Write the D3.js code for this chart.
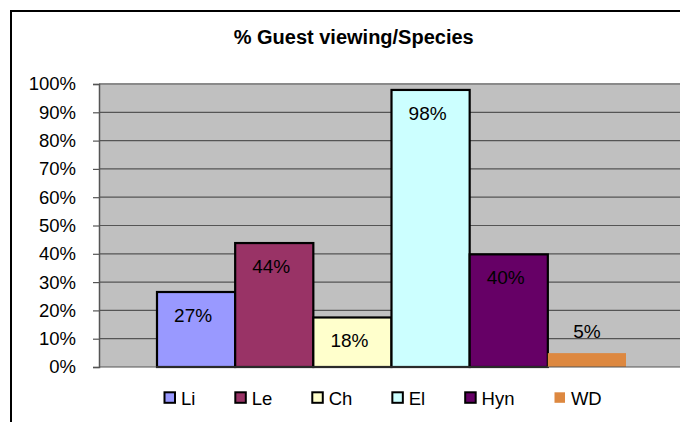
<!DOCTYPE html>
<html>
<head>
<meta charset="utf-8">
<script src="https://cdn.jsdelivr.net/npm/d3@7"></script>
<style>
  html, body { margin: 0; padding: 0; background: #fff; }
  svg { display: block; }
  text { font-family: "Liberation Sans", Arial, sans-serif; fill: #000; }
</style>
</head>
<body>
<svg id="chart" width="680" height="422"></svg>
<script>
// ---- data ----
const title = "% Guest viewing/Species";
const categories = ["Li", "Le", "Ch", "El", "Hyn", "WD"];
const values = [0.265, 0.438, 0.175, 0.979, 0.398, 0.049];
const valueLabels = ["27%", "44%", "18%", "98%", "40%", "5%"];
const colors = ["#9999FF", "#993366", "#FFFFCC", "#CCFFFF", "#660066", "#DD8840"];
const bordered = [true, true, true, true, true, false];
const yTicks = [0, 0.1, 0.2, 0.3, 0.4, 0.5, 0.6, 0.7, 0.8, 0.9, 1.0];

// ---- layout ----
const svg = d3.select("#chart");
const plot = { left: 99, right: 684, top: 84, bottom: 367 };
const groupWidth = 469;
const groupCenter = (plot.left + plot.right) / 2;

// outer chart border (extends past the window on right/bottom)
svg.append("rect")
  .attr("x", 11).attr("y", 11).attr("width", 740).attr("height", 460)
  .attr("fill", "#fff").attr("stroke", "#000").attr("stroke-width", 2);

// title
svg.append("text")
  .attr("x", 353.7).attr("y", 43.5)
  .attr("text-anchor", "middle")
  .style("font-size", "20px").style("font-weight", "bold")
  .text(title);

const y = d3.scaleLinear().domain([0, 1]).range([plot.bottom, plot.top]);
const x = d3.scaleBand().domain(categories)
  .range([groupCenter - groupWidth / 2, groupCenter + groupWidth / 2])
  .paddingInner(0).paddingOuter(0);

// plot background
svg.append("rect")
  .attr("x", plot.left).attr("y", plot.top)
  .attr("width", plot.right - plot.left).attr("height", plot.bottom - plot.top)
  .attr("fill", "#C0C0C0");

// gridlines
svg.append("g").selectAll("line").data(yTicks.filter(d => d > 0 && d < 1)).join("line")
  .attr("x1", plot.left).attr("x2", plot.right)
  .attr("y1", d => y(d)).attr("y2", d => y(d))
  .attr("stroke", "#555").attr("stroke-width", 1.2);
// top border of plot
svg.append("line")
  .attr("x1", plot.left).attr("x2", plot.right)
  .attr("y1", y(1)).attr("y2", y(1))
  .attr("stroke", "#8a8a8a").attr("stroke-width", 2);

// bars
svg.append("g").selectAll("rect").data(categories).join("rect")
  .attr("x", d => x(d))
  .attr("y", (d, i) => y(values[i]))
  .attr("width", x.bandwidth())
  .attr("height", (d, i) => y(0) - y(values[i]))
  .attr("fill", (d, i) => colors[i])
  .attr("stroke", (d, i) => bordered[i] ? "#000" : "none")
  .attr("stroke-width", 2.2);

// bottom axis line
svg.append("line")
  .attr("x1", plot.left).attr("x2", plot.right)
  .attr("y1", y(0)).attr("y2", y(0))
  .attr("stroke", "#555").attr("stroke-width", 1.2);

// y axis
const yAxis = d3.axisLeft(y).tickValues(yTicks).tickFormat(d3.format(".0%"))
  .tickSize(6).tickPadding(17);
const ga = svg.append("g").attr("transform", `translate(${plot.left},0)`).call(yAxis);
ga.select(".domain").attr("stroke", "#555").attr("stroke-width", 1.5);
ga.selectAll(".tick line").attr("stroke", "#555").attr("stroke-width", 1.2);
ga.selectAll(".tick text")
  .style("font-family", '"Liberation Sans", Arial, sans-serif')
  .style("font-size", "18.5px").attr("fill", "#000");

// value labels
svg.append("g").selectAll("text").data(categories).join("text")
  .attr("x", (d, i) => {
    const c = x(d) + x.bandwidth() / 2;
    return (y(0) - y(values[i]) < 40) ? c : c - 3;
  })
  .attr("y", (d, i) => {
    const top = y(values[i]);
    return (y(0) - top < 40) ? top - 15 : top + 30;
  })
  .attr("text-anchor", "middle")
  .style("font-size", "19px")
  .text((d, i) => valueLabels[i]);

// legend
const legend = svg.append("g");
let lx = 163.5;
categories.forEach((c, i) => {
  const g = legend.append("g");
  g.append("rect")
    .attr("x", lx + 1).attr("y", 392.3)
    .attr("width", 10.5).attr("height", 10.5)
    .attr("fill", colors[i])
    .attr("stroke", bordered[i] ? "#000" : "none")
    .attr("stroke-width", 2);
  const t = g.append("text")
    .attr("x", lx + 17.4).attr("y", 405)
    .style("font-size", "18.5px")
    .text(c);
  const w = t.node().getComputedTextLength();
  lx = lx + 17.4 + w + 39;
});
</script>
</body>
</html>
